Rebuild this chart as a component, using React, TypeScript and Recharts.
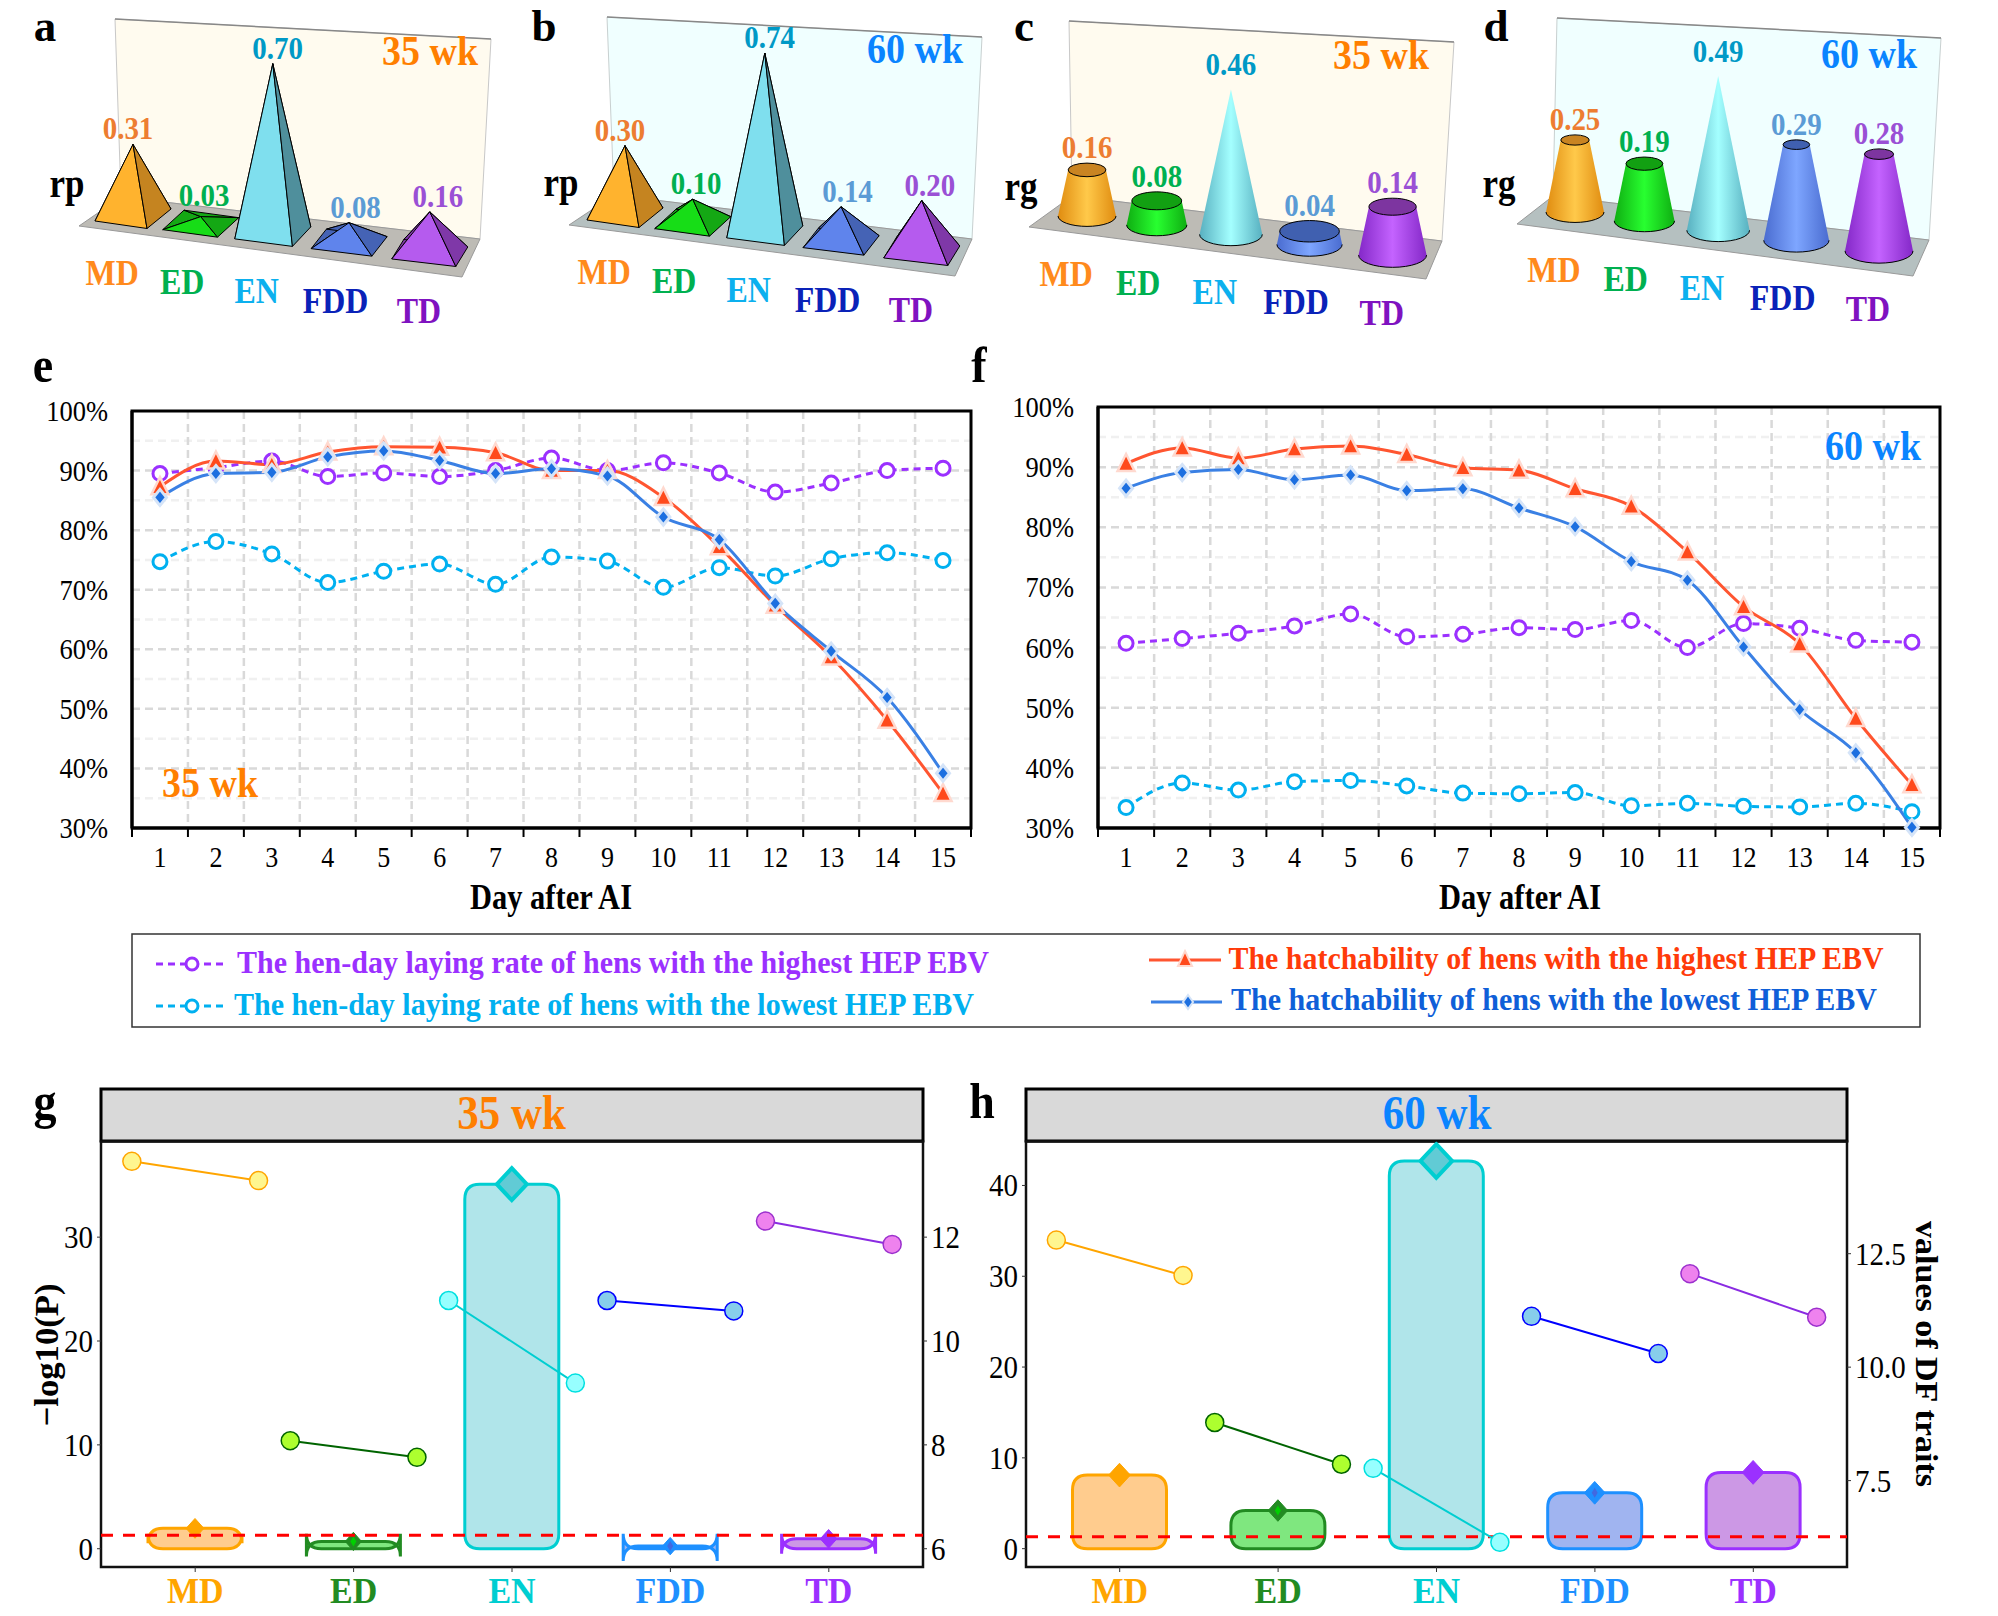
import { BarChart, Bar, LineChart, Line, ComposedChart, XAxis, YAxis, CartesianGrid, ReferenceArea, ReferenceLine } from "recharts";

const serif = '"Liberation Serif", "Times New Roman", serif';

// ---- panels a-d ----
const traits = ["MD", "ED", "EN", "FDD", "TD"];
const rp35 = [0.31, 0.03, 0.7, 0.08, 0.16];
const rp60 = [0.3, 0.1, 0.74, 0.14, 0.2];
const rg35 = [0.16, 0.08, 0.46, 0.04, 0.14];
const rg60 = [0.25, 0.19, 0.49, 0.29, 0.28];

const labelColors = ["#ff8a1c", "#00b050", "#0cb0ee", "#0a22b8", "#7f12c0"];
const valueColors = ["#ed7d31", "#00b050", "#0099c6", "#5b9bd5", "#9a50d5"];
const faceFront = ["#ffb32e", "#17dd17", "#7fdfee", "#5f84ec", "#b55bee"];
const faceSide = ["#c58420", "#14a814", "#4f8f9c", "#4563b5", "#7f38a8"];
const coneEdge = ["#e08c10", "#0fae12", "#58b0c0", "#4a6cd0", "#8428c8"];
const coneMid = ["#ffc94a", "#28ff30", "#a4ffff", "#7ea6ff", "#c463ff"];
const coneCap = ["#c98422", "#12a012", "#5cc0cc", "#4060b0", "#7d35a0"];

// ---- panels e, f ----
const days = [1, 2, 3, 4, 5, 6, 7, 8, 9, 10, 11, 12, 13, 14, 15];
const dayEdges = [0.5, 1.5, 2.5, 3.5, 4.5, 5.5, 6.5, 7.5, 8.5, 9.5, 10.5, 11.5, 12.5, 13.5, 14.5, 15.5];
const pctTicks = [30, 40, 50, 60, 70, 80, 90, 100];
const pctMajor = [40, 50, 60, 70, 80, 90];
const pctMinor = [35, 45, 55, 65, 75, 85, 95];

const layHigh35 = [89.5, 90.5, 91.6, 89, 89.6, 89, 90, 92.1, 90, 91.3, 89.6, 86.4, 87.9, 90, 90.4];
const layLow35 = [74.7, 78.1, 76, 71.2, 73.1, 74.3, 70.9, 75.5, 74.8, 70.4, 73.7, 72.3, 75.2, 76.2, 74.9];
const hatchHigh35 = [87.3, 91.6, 91, 93.1, 94, 93.9, 93, 90, 90, 85.5, 77.2, 67.4, 58.7, 48.1, 35.8];
const hatchLow35 = [85.5, 89.5, 89.7, 92.3, 93.3, 91.7, 89.5, 90.3, 89.1, 82.2, 78.4, 67.7, 59.7, 51.9, 39.2];

const layHigh60 = [60.7, 61.5, 62.4, 63.6, 65.6, 61.8, 62.2, 63.3, 63, 64.5, 60, 64, 63.2, 61.2, 60.9];
const layLow60 = [33.4, 37.5, 36.3, 37.7, 37.9, 37, 35.8, 35.7, 35.9, 33.7, 34.1, 33.6, 33.5, 34.1, 32.7];
const hatchHigh60 = [90.6, 93.2, 91.5, 93, 93.5, 92.1, 89.9, 89.5, 86.4, 83.5, 75.9, 66.8, 60.6, 48.2, 37.2];
const hatchLow60 = [86.5, 89.1, 89.6, 87.9, 88.7, 86.1, 86.4, 83.2, 80.1, 74.3, 71.2, 60.1, 49.7, 42.5, 30.1];

// ---- panels g, h ----
const logP35 = [1.96, 0.7, 35.1, 0.25, 0.95];
const logP60 = [8.1, 4.2, 42.7, 6.15, 8.4];
const dfHigh35 = [13.46, 8.08, 10.78, 10.78, 12.31];
const dfLow35 = [13.09, 7.76, 9.19, 10.58, 11.86];
const dfHigh60 = [12.8, 8.78, 7.77, 11.12, 12.06];
const dfLow60 = [12.02, 7.86, 6.14, 10.3, 11.1];

const barStroke = ["#ffa500", "#228b22", "#00ced1", "#1e90ff", "#9b30ff"];
const barFill = ["#ff9a1e", "#00d000", "#61cbd5", "#4169e1", "#9932cc"];
const pairStroke = ["#ffa500", "#006400", "#00ced1", "#0000ff", "#8a2be2"];
const pairDotStroke = ["#ffa500", "#006400", "#00e0e0", "#0000ff", "#9b30cd"];
const pairDotFill = ["#fff68f", "#adff2f", "#97ffff", "#87ceeb", "#ee82ee"];

const purple = "#9b30ff";
const cyan = "#00b0f0";
const red = "#ff5530";
const blue = "#3a80e4";

// the source figure's text is slightly stretched upward, so every label gets a y scale
function Txt({ x, y, c = "#000", s, w = "bold", a = "middle", k = 1.12, len, rot = 0, children }: any) {
  return (
    <text
      fill={c}
      fontSize={s}
      fontWeight={w}
      textAnchor={a}
      textLength={len}
      lengthAdjust={len ? "spacingAndGlyphs" : undefined}
      transform={`translate(${x} ${y}) rotate(${rot}) scale(1 ${k})`}
    >
      {children}
    </text>
  );
}

function warp(x: number, first: number, last: number) {
  const t = (x - first) / (last - first);
  const u = t - 0.116 * t * (1 - t);
  return { u, px: first + (last - first) * u };
}

function Solids({ values, kind, left, right, bottom }: any) {
  const perUnit = kind === "pyramid" ? 245 : 320;
  const max = kind === "pyramid" ? 0.8 : 0.6;
  const H = 340;
  const band = (right - left) / 5;
  const first = left + band / 2;
  const last = right - band / 2;
  const peak = Math.max(...values);
  const rows = traits.map((t, i) => ({ trait: t, value: values[i] }));

  const shape = (p: any) => {
    const { u, px } = warp(p.x + p.width / 2, first, last);
    const by = bottom + 0.128 * (px - first);
    const i = p.index;
    if (kind === "pyramid") {
      const h = p.height * (0.93 + 0.12 * u);
      const ty = by - h;
      const fx = 14 + 12 * u;
      const L: any = [px - 38, by + 6];
      const R: any = [px + 38, by - 6];
      const F: any = [px + fx, by + 13.5];
      const B: any = [px - fx, by - 13.5];
      const A: any = [px, ty];
      const face = (a: any, b: any, c: string) => (
        <polygon points={`${a[0]},${a[1]} ${b[0]},${b[1]} ${A[0]},${A[1]}`} fill={c} stroke="#000" strokeWidth={1} strokeLinejoin="round" />
      );
      const lift = h < 20 ? 8 * (1 - h / 20) : 0;
      return (
        <g>
          {face(L, B, faceSide[i])}
          {face(B, R, faceSide[i])}
          {face(L, F, faceFront[i])}
          {face(F, R, faceSide[i])}
          <Txt x={px + 2 + 6 * u - (i === 0 ? 7 : 0)} y={ty - 5 - lift} s={29} c={valueColors[i]}>
            {p.value.toFixed(2)}
          </Txt>
        </g>
      );
    }
    const h = p.height * (0.9 + 0.18 * u);
    const ty = by - h;
    const R = 29 + 5 * u;
    const r = R * (1 - p.value / peak);
    const ry = R * 0.36;
    const rt = r * 0.36;
    return (
      <g>
        <path
          d={`M${px - R},${by} A${R},${ry} 0 0 0 ${px + R},${by} L${px + r},${ty} L${px - r},${ty} Z`}
          fill={`url(#cone-${i})`}
        />
        <path d={`M${px - R},${by} A${R},${ry} 0 0 0 ${px + R},${by}`} fill="none" stroke="#000" strokeWidth={1} />
        {r > 0 && <ellipse cx={px} cy={ty} rx={r} ry={rt} fill={coneCap[i]} stroke="#000" strokeWidth={1} />}
        <Txt x={px} y={ty - rt - (r > 0 ? 5 : 14)} s={29} c={valueColors[i]}>
          {p.value.toFixed(2)}
        </Txt>
      </g>
    );
  };

  const catTick = (p: any) => {
    const { u, px } = warp(p.x, first, last);
    const by = bottom + 0.128 * (px - first);
    return (
      <g key={p.index}>
        <Txt x={px - 21 + 10 * u} y={by + 70} s={32} c={labelColors[p.index]}>
          {p.payload.value}
        </Txt>
      </g>
    );
  };

  return (
    <div style={{ position: "absolute", left: 0, top: 0 }}>
      <BarChart
        width={1998}
        height={H}
        data={rows}
        margin={{ left, right: 1998 - right, top: bottom - perUnit * max, bottom: H - bottom - 1 }}
      >
        <defs>
          {traits.map((t, i) => (
            <linearGradient key={t} id={`cone-${i}`} x1="0" x2="1" y1="0" y2="0">
              <stop offset="0" stopColor={coneEdge[i]} />
              <stop offset="0.5" stopColor={coneMid[i]} />
              <stop offset="1" stopColor={coneEdge[i]} />
            </linearGradient>
          ))}
        </defs>
        <XAxis dataKey="trait" height={1} axisLine={false} tickLine={false} interval={0} tick={catTick} />
        <YAxis hide domain={[0, max]} />
        <Bar dataKey="value" isAnimationActive={false} shape={shape} barSize={40} />
      </BarChart>
    </div>
  );
}

const triangleDot = (p: any) => (
  <path
    key={p.index}
    d={`M${p.cx},${p.cy - 9.5} L${p.cx + 8.5},${p.cy + 7.5} L${p.cx - 8.5},${p.cy + 7.5} Z`}
    fill="#ff4a1c"
    stroke="#ffd9cf"
    strokeWidth={2.5}
  />
);
const diamondDot = (p: any) => (
  <path
    key={p.index}
    d={`M${p.cx},${p.cy - 8} L${p.cx + 6.5},${p.cy} L${p.cx},${p.cy + 8} L${p.cx - 6.5},${p.cy} Z`}
    fill="#1c6fe0"
    stroke="#d5e4f8"
    strokeWidth={3}
  />
);

const numTick = (s: number, k: number, shift: number, fmt: (v: number) => string) => (p: any) => (
  <g key={p.index}>
    <Txt x={p.x} y={p.y + shift} s={s} k={k} w="normal" a={p.textAnchor}>
      {fmt(p.payload.value)}
    </Txt>
  </g>
);

function DayPanel({ left, right, top, a, b, c, d }: any) {
  const H = 880;
  const rows = days.map((day, i) => ({ day, layHigh: a[i], layLow: b[i], hatchHigh: c[i], hatchLow: d[i] }));
  return (
    <div style={{ position: "absolute", left: 0, top: 0 }}>
      <LineChart
        width={1998}
        height={H}
        data={rows}
        margin={{ left: left - 60, right: 1998 - right, top, bottom: H - 828 - 50 }}
      >
        <XAxis
          xAxisId="a-edges"
          dataKey="day"
          type="number"
          domain={[0.5, 15.5]}
          ticks={dayEdges}
          interval={0}
          height={10}
          tickSize={9}
          tickFormatter={() => ""}
          axisLine={{ stroke: "#000", strokeWidth: 3 }}
          tickLine={{ stroke: "#000", strokeWidth: 2 }}
        />
        <XAxis
          xAxisId="b-days"
          dataKey="day"
          type="number"
          domain={[0.5, 15.5]}
          ticks={days}
          interval={0}
          height={40}
          axisLine={false}
          tickLine={false}
          tickMargin={3}
          tick={numTick(26, 1.15, 20, (v) => String(v))}
        />
        <YAxis
          width={60}
          domain={[30, 100]}
          ticks={pctTicks}
          interval={0}
          axisLine={{ stroke: "#000", strokeWidth: 3 }}
          tickLine={false}
          tickMargin={18}
          tick={numTick(26.5, 1.15, 10, (v) => `${v}%`)}
        />
        <CartesianGrid xAxisId="b-days" horizontalValues={pctMinor} vertical={false} stroke="#f0f0f0" strokeWidth={2.5} strokeDasharray="8 5" />
        <CartesianGrid xAxisId="b-days" horizontalValues={pctMajor} verticalValues={dayEdges.slice(1, -1)} stroke="#d9d9d9" strokeWidth={2.5} strokeDasharray="8 5" />
        <ReferenceArea xAxisId="b-days" x1={0.5} x2={15.5} y1={30} y2={100} fill="none" stroke="#000" strokeWidth={3} ifOverflow="visible" />
        <Line xAxisId="b-days" dataKey="layHigh" type="monotone" stroke={purple} strokeWidth={3} strokeDasharray="7 5" isAnimationActive={false}
          dot={{ r: 7, fill: "#fff", stroke: purple, strokeWidth: 3, strokeDasharray: "" }} />
        <Line xAxisId="b-days" dataKey="layLow" type="monotone" stroke={cyan} strokeWidth={3} strokeDasharray="7 5" isAnimationActive={false}
          dot={{ r: 7, fill: "#fff", stroke: cyan, strokeWidth: 3, strokeDasharray: "" }} />
        <Line xAxisId="b-days" dataKey="hatchHigh" type="monotone" stroke={red} strokeWidth={3} isAnimationActive={false} dot={triangleDot} />
        <Line xAxisId="b-days" dataKey="hatchLow" type="monotone" stroke={blue} strokeWidth={3} isAnimationActive={false} dot={diamondDot} />
      </LineChart>
    </div>
  );
}

function TraitPanel({ left, right, logP, dfHigh, dfLow, pDomain, dfDomain, pTicks, dfTicks, rightDigits }: any) {
  const T = 1060;
  const H = 556;
  const plotTop = 1141.6;
  const plotBottom = 1567;
  const band = 158.4;
  const pad = (right - left - band * 5) / 2;
  const lo = 1 - (band / 2 + pad) / band;
  const hi = 5 + (band / 2 + pad) / band;
  const rows = traits.map((trait, i) => ({ trait, logP: logP[i] }));

  const barShape = (p: any) => {
    const { x, y, width: w, height: h } = p;
    const i = p.index;
    const r = 15;
    const d =
      `M${x},${y + r} Q${x},${y} ${x + r},${y} L${x + w - r},${y} Q${x + w},${y} ${x + w},${y + r} ` +
      `L${x + w},${y + h - r} Q${x + w},${y + h} ${x + w - r},${y + h} L${x + r},${y + h} Q${x},${y + h} ${x},${y + h - r} Z`;
    const cx = x + w / 2;
    const s = (14 + 2.7 * Math.sqrt(p.value)) / 2;
    const big = p.value > 20;
    const inner = i === 1 || i === 3;
    return (
      <g>
        <path d={d} fill={barFill[i]} fillOpacity={0.5} stroke={barStroke[i]} strokeWidth={3} />
        <path
          d={`M${cx},${y - s - 1} L${cx + s},${y} L${cx},${y + s + 1} L${cx - s},${y} Z`}
          fill={big ? "#61cbd5" : barStroke[i]}
          stroke={barStroke[i]}
          strokeWidth={big ? 4 : 1}
        />
        {inner && <path d={`M${cx},${y - 5} L${cx + 3},${y} L${cx},${y + 5} L${cx - 3},${y} Z`} fill={barFill[i]} />}
      </g>
    );
  };

  const tick = (p: any) => (
    <g key={p.index}>
      <line x1={p.x} x2={p.x} y1={plotBottom - T} y2={plotBottom - T + 5} stroke="#333" />
      <Txt x={p.x} y={1602.6 - T} s={34} k={1.05} c={barStroke[p.index]}>
        {p.payload.value}
      </Txt>
    </g>
  );

  return (
    <div style={{ position: "absolute", left: 0, top: T }}>
      <ComposedChart
        width={1998}
        height={H}
        data={rows}
        margin={{ left: left - 60, right: 1998 - right - 60, top: plotTop - T, bottom: 1616 - plotBottom - 45 }}
      >
        <XAxis
          xAxisId="trait"
          dataKey="trait"
          height={45}
          padding={{ left: pad, right: pad }}
          axisLine={false}
          tickLine={false}
          interval={0}
          tick={tick}
        />
        <XAxis xAxisId="pair" dataKey="x" type="number" hide domain={[lo, hi]} allowDataOverflow />
        <YAxis
          yAxisId="p"
          width={60}
          domain={pDomain}
          ticks={pTicks}
          interval={0}
          allowDataOverflow
          axisLine={false}
          tickSize={4}
          tickMargin={4}
          tickLine={{ stroke: "#333" }}
          tick={numTick(29, 1.12, 11, (v) => String(v))}
        />
        <YAxis
          yAxisId="df"
          orientation="right"
          width={60}
          domain={dfDomain}
          ticks={dfTicks}
          interval={0}
          allowDataOverflow
          axisLine={false}
          tickSize={4}
          tickMargin={4}
          tickLine={{ stroke: "#333" }}
          tick={numTick(29, 1.12, 11, (v) => v.toFixed(rightDigits))}
        />
        <ReferenceArea xAxisId="pair" yAxisId="p" x1={lo} x2={hi} y1={pDomain[0]} y2={pDomain[1]} fill="none" stroke="#111" strokeWidth={2.5} ifOverflow="visible" />
        <ReferenceLine xAxisId="pair" yAxisId="p" y={1.3} stroke="#ff0000" strokeWidth={3} strokeDasharray="12 10" />
        <Bar xAxisId="trait" yAxisId="p" dataKey="logP" barSize={94} isAnimationActive={false} shape={barShape} />
        {traits.map((t, i) => (
          <Line
            key={t}
            xAxisId="pair"
            yAxisId="df"
            data={[
              { x: i + 1 - 0.4, df: dfHigh[i] },
              { x: i + 1 + 0.4, df: dfLow[i] },
            ]}
            dataKey="df"
            type="linear"
            stroke={pairStroke[i]}
            strokeWidth={2}
            isAnimationActive={false}
            dot={{ r: 9, fill: pairDotFill[i], stroke: pairDotStroke[i], strokeWidth: 1.5 }}
          />
        ))}
      </ComposedChart>
    </div>
  );
}

const orange = "#ff7f00";
const sky = "#0a84ff";

export default function App() {
  return (
    <div style={{ position: "absolute", left: 0, top: 0, width: 1998, height: 1616, background: "#fff", overflow: "hidden", fontFamily: serif }}>
      <svg width={1998} height={1616} style={{ position: "absolute", left: 0, top: 0 }}>
        <polygon points="115,19 491,39 480,239 121,197" fill="#fffbef" stroke="#c8c8c8" />
        <line x1={115} y1={19} x2={491} y2={39} stroke="#888" strokeWidth={1.5} />
        <polygon points="79,226 462,277 480,239 121,197" fill="#bdbbb5" stroke="#999" />
        <polygon points="607,17 982,37 972,239 614,195" fill="#f0ffff" stroke="#c8d0d0" />
        <line x1={607} y1={17} x2={982} y2={37} stroke="#888" strokeWidth={1.5} />
        <polygon points="569,225 955,276 972,239 614,195" fill="#b5c0c0" stroke="#999" />
        <polygon points="1069,21 1454,42 1442,241 1072,196" fill="#fffbef" stroke="#c8c8c8" />
        <line x1={1069} y1={21} x2={1454} y2={42} stroke="#888" strokeWidth={1.5} />
        <polygon points="1029,227 1426,279 1442,241 1072,196" fill="#bdbbb5" stroke="#999" />
        <polygon points="1557,18 1941,38 1929,240 1553,196" fill="#f0ffff" stroke="#c8d0d0" />
        <line x1={1557} y1={18} x2={1941} y2={38} stroke="#888" strokeWidth={1.5} />
        <polygon points="1517,224 1913,276 1929,240 1553,196" fill="#b5c0c0" stroke="#999" />
        <rect x={101} y={1089} width={822} height={52} fill="#d9d9d9" stroke="#000" strokeWidth={3} />
        <rect x={1026} y={1089} width={821} height={52} fill="#d9d9d9" stroke="#000" strokeWidth={3} />
      </svg>

      <Solids values={rp35} kind="pyramid" left={96} right={467} bottom={215} />
      <Solids values={rp60} kind="pyramid" left={588} right={959} bottom={214} />
      <Solids values={rg35} kind="cone" left={1049} right={1431} bottom={216} />
      <Solids values={rg60} kind="cone" left={1537} right={1917} bottom={212} />

      <DayPanel left={132} right={971} top={411} a={layHigh35} b={layLow35} c={hatchHigh35} d={hatchLow35} />
      <DayPanel left={1098} right={1940} top={407} a={layHigh60} b={layLow60} c={hatchHigh60} d={hatchLow60} />

      <TraitPanel left={101} right={923} logP={logP35} dfHigh={dfHigh35} dfLow={dfLow35}
        pDomain={[-1.76, 39.2]} dfDomain={[5.648, 13.84]} pTicks={[0, 10, 20, 30]} dfTicks={[6, 8, 10, 12]} rightDigits={0} />
      <TraitPanel left={1026} right={1847} logP={logP60} dfHigh={dfHigh60} dfLow={dfLow60}
        pDomain={[-2.02, 44.83]} dfDomain={[5.596, 14.97]} pTicks={[0, 10, 20, 30, 40]} dfTicks={[7.5, 10, 12.5]} rightDigits={1} />

      <svg width={1998} height={1616} style={{ position: "absolute", left: 0, top: 0, pointerEvents: "none" }}>
        <Txt x={45} y={41} s={45} k={1}>a</Txt>
        <Txt x={544} y={41} s={45} k={1}>b</Txt>
        <Txt x={1024} y={41} s={45} k={1}>c</Txt>
        <Txt x={1496} y={41} s={45} k={1}>d</Txt>
        <Txt x={43} y={382} s={46}>e</Txt>
        <Txt x={979} y={382} s={46}>f</Txt>
        <Txt x={45} y={1118} s={46}>g</Txt>
        <Txt x={982} y={1118} s={46}>h</Txt>

        <Txt x={67} y={197} s={35}>rp</Txt>
        <Txt x={561} y={196} s={35}>rp</Txt>
        <Txt x={1021} y={200} s={35}>rg</Txt>
        <Txt x={1499} y={197} s={35}>rg</Txt>

        <Txt x={430} y={65} s={38} c={orange}>35 wk</Txt>
        <Txt x={915} y={63} s={38} c={sky}>60 wk</Txt>
        <Txt x={1381} y={69} s={38} c={orange}>35 wk</Txt>
        <Txt x={1869} y={68} s={38} c={sky}>60 wk</Txt>
        <Txt x={210} y={797} s={38} c={orange}>35 wk</Txt>
        <Txt x={1873} y={460} s={38} c={sky}>60 wk</Txt>

        <Txt x={551} y={909} s={30.5} k={1.2}>Day after AI</Txt>
        <Txt x={1520} y={909} s={30.5} k={1.2}>Day after AI</Txt>

        <rect x={132} y={934} width={1788} height={93} fill="none" stroke="#333" strokeWidth={1.5} />
        <line x1={156} x2={227} y1={964} y2={964} stroke={purple} strokeWidth={3} strokeDasharray="7 5" />
        <circle cx={192} cy={964} r={6} fill="#fff" stroke={purple} strokeWidth={3} />
        <Txt x={613} y={973} s={28} k={1.15} c={purple} len={752}>The hen-day laying rate of hens with the highest HEP EBV</Txt>
        <line x1={156} x2={227} y1={1006} y2={1006} stroke={cyan} strokeWidth={3} strokeDasharray="7 5" />
        <circle cx={192} cy={1006} r={6} fill="#fff" stroke={cyan} strokeWidth={3} />
        <Txt x={604} y={1015} s={28} k={1.15} c={cyan} len={740}>The hen-day laying rate of hens with the lowest HEP EBV</Txt>
        <line x1={1149} x2={1221} y1={960} y2={960} stroke={red} strokeWidth={3} />
        <path d="M1185,951 L1192,966 L1178,966 Z" fill="#ff4a1c" stroke="#ffd9cf" strokeWidth={2} />
        <Txt x={1556} y={969} s={28} k={1.15} c="#ff3b0a" len={655}>The hatchability of hens with the highest HEP EBV</Txt>
        <line x1={1151} x2={1222} y1={1002} y2={1002} stroke={blue} strokeWidth={3} />
        <path d="M1188,995 L1193,1002 L1188,1009 L1183,1002 Z" fill="#1c6fe0" stroke="#d5e4f8" strokeWidth={2} />
        <Txt x={1554} y={1010} s={28} k={1.15} c="#0f5fd8" len={646}>The hatchability of hens with the lowest HEP EBV</Txt>

        <Txt x={511.5} y={1129} s={43} c={orange}>35 wk</Txt>
        <Txt x={1437} y={1129} s={43} c={sky}>60 wk</Txt>
        <Txt x={58} y={1355} s={34} k={1} len={143} rot={-90}>−log10(P)</Txt>
        <Txt x={1916} y={1354} s={32} k={1} len={266} rot={90}>values of DF traits</Txt>
      </svg>
    </div>
  );
}
